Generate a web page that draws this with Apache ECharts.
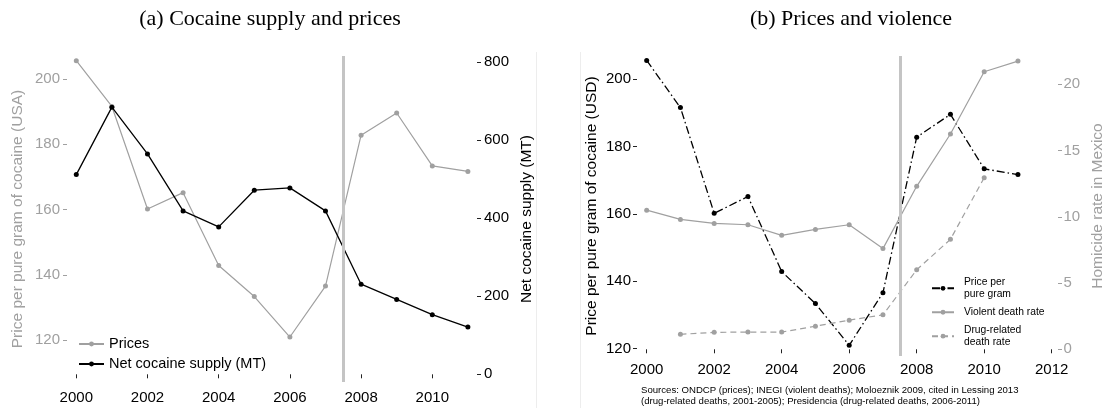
<!DOCTYPE html>
<html>
<head>
<meta charset="utf-8">
<script src="https://cdn.jsdelivr.net/npm/echarts@6/dist/echarts.min.js"></script>
<style>
  html, body { margin: 0; padding: 0; background: #fff; }
  #chart { width: 1109px; height: 408px; }
</style>
</head>
<body>
<div id="chart"></div>
<script>
// ---- data ----
const years = [2000, 2001, 2002, 2003, 2004, 2005, 2006, 2007, 2008, 2009, 2010, 2011];
// price per pure gram of cocaine (USD)
const prices = [205.6, 191.6, 160.2, 165.2, 142.9, 133.4, 121.0, 136.6, 182.8, 189.6, 173.4, 171.7];
// net cocaine supply (metric tons)
const supply = [512, 685, 565, 419, 378, 472, 478, 419, 231, 192, 153, 121];
// homicide rates in Mexico (per 100k)
const violentRate = [10.5, 9.8, 9.5, 9.4, 8.6, 9.05, 9.4, 7.6, 12.3, 16.25, 20.95, 21.75];
const drugRate = [null, 1.13, 1.28, 1.3, 1.3, 1.74, 2.2, 2.6, 6.0, 8.3, 12.95, null];

const yearTicksA = [2000, 2002, 2004, 2006, 2008, 2010];
const yearTicksB = [2000, 2002, 2004, 2006, 2008, 2010, 2012];
const priceTicks = [120, 140, 160, 180, 200];
const supplyTicks = [0, 200, 400, 600, 800];
const rateTicks = [0, 5, 10, 15, 20];

const policyYear = 2007.5;   // start of the crackdown, drawn as a vertical rule

const titleA = '(a) Cocaine supply and prices';
const titleB = '(b) Prices and violence';
const sourcesNote = 'Sources: ONDCP (prices); INEGI (violent deaths); Moloeznik 2009, cited in Lessing 2013\n' +
  '(drug-related deaths, 2001-2005); Presidencia (drug-related deaths, 2006-2011)';

// ---- styling ----
const SANS = "'Liberation Sans', Arial, Helvetica, sans-serif";
const SERIF = "'Liberation Serif', 'Times New Roman', serif";
const GREY = '#a0a0a0';
const BLACK = '#000000';

const pairs = (vals) => years.map((y, i) => [y, vals[i]]).filter(p => p[1] != null);

function xAxisDef(grid, min, max, ticks, margin) {
  return {
    type: 'value', gridIndex: grid, min: min, max: max,
    axisLine: { show: false }, splitLine: { show: false },
    axisTick: { show: true, length: 4, customValues: ticks, lineStyle: { color: '#222', width: 1 } },
    axisLabel: { customValues: ticks, margin: margin, fontSize: 15, fontFamily: SANS, color: BLACK,
                 formatter: v => String(v) }
  };
}

function yAxisDef(grid, pos, min, max, ticks, color, name, nameGap, margin) {
  return {
    type: 'value', gridIndex: grid, position: pos, min: min, max: max,
    axisLine: { show: false }, splitLine: { show: false },
    axisTick: { show: true, length: 4, customValues: ticks, lineStyle: { color: color === BLACK ? '#222' : color, width: 1 } },
    axisLabel: { customValues: ticks, margin: margin, fontSize: 15, fontFamily: SANS, color: color,
                 formatter: v => String(v) },
    name: name, nameLocation: 'middle', nameGap: nameGap,
    nameTextStyle: { fontSize: 15.5, fontFamily: SANS, color: color }
  };
}

function lineSeries(name, xi, yi, vals, color, dash, width) {
  return {
    name: name, type: 'line', xAxisIndex: xi, yAxisIndex: yi, data: pairs(vals),
    symbol: 'circle', symbolSize: 5, showSymbol: true, connectNulls: false,
    itemStyle: { color: color },
    lineStyle: { color: color, width: width, type: dash },
    emphasis: { disabled: true }, animation: false, z: 3
  };
}

function ruleSeries(xi, yi) {
  return {
    type: 'line', xAxisIndex: xi, yAxisIndex: yi, data: [], z: 1, silent: true, animation: false,
    markLine: {
      silent: true, symbol: 'none', animation: false,
      label: { show: false },
      lineStyle: { color: '#c4c4c4', width: 3, type: 'solid' },
      data: [{ xAxis: policyYear }]
    }
  };
}

const chart = echarts.init(document.getElementById('chart'), null, { renderer: 'canvas' });

chart.setOption({
  backgroundColor: '#ffffff',
  animation: false,
  grid: [
    { left: 67, top: 56, width: 410, height: 326 },
    { left: 637, top: 56, width: 421, height: 300 }
  ],
  xAxis: [
    xAxisDef(0, 1999.739, 2011.256, yearTicksA, 8),
    xAxisDef(1, 1999.713, 2012.187, yearTicksB, 6)
  ],
  yAxis: [
    yAxisDef(0, 'left', 107.23, 207.04, priceTicks, GREY, 'Price per pure gram of cocaine (USA)', 41, 7),
    yAxisDef(0, 'right', -19.74, 816.15, supplyTicks, BLACK, 'Net cocaine supply (MT)', 42, 7),
    yAxisDef(1, 'left', 117.83, 206.92, priceTicks, BLACK, 'Price per pure gram of cocaine (USD)', 37, 6),
    yAxisDef(1, 'right', -0.506, 22.136, rateTicks, GREY, 'Homicide rate in Mexico', 32, 5.5)
  ],
  legend: [
    {
      data: ['Prices', 'Net cocaine supply (MT)'],
      orient: 'vertical', left: 78, top: 336, padding: 0, itemGap: 4,
      itemWidth: 25, itemHeight: 6, selectedMode: false,
      textStyle: { fontSize: 14.5, fontFamily: SANS, color: BLACK, lineHeight: 16 }
    },
    {
      data: ['Price per\npure gram', 'Violent death rate', 'Drug-related\ndeath rate'],
      orient: 'vertical', left: 931, top: 277, padding: 0, itemGap: 7,
      itemWidth: 22, itemHeight: 6, selectedMode: false,
      textStyle: { fontSize: 10.3, fontFamily: SANS, color: BLACK, lineHeight: 11.3, padding: [0, 0, 0, 5] }
    }
  ],
  graphic: [
    { type: 'line', silent: true, shape: { x1: 536.5, y1: 52, x2: 536.5, y2: 408 }, style: { stroke: '#ededed', lineWidth: 1 } },
    { type: 'line', silent: true, shape: { x1: 580.5, y1: 52, x2: 580.5, y2: 408 }, style: { stroke: '#ededed', lineWidth: 1 } },
    { type: 'text', silent: true, x: 270, y: 19,
      style: { text: titleA, align: 'center', verticalAlign: 'middle', font: '22px ' + SERIF, fill: '#000' } },
    { type: 'text', silent: true, x: 851, y: 19,
      style: { text: titleB, align: 'center', verticalAlign: 'middle', font: '22px ' + SERIF, fill: '#000' } },
    { type: 'text', silent: true, x: 641, y: 385,
      style: { text: sourcesNote, align: 'left', verticalAlign: 'top', font: '9.6px ' + SANS, lineHeight: 11, fill: '#000' } }
  ],
  series: [
    ruleSeries(0, 0),
    lineSeries('Prices', 0, 0, prices, GREY, 'solid', 1.2),
    lineSeries('Net cocaine supply (MT)', 0, 1, supply, BLACK, 'solid', 1.3),
    ruleSeries(1, 2),
    lineSeries('Price per\npure gram', 1, 2, prices, BLACK, [8, 3, 1.5, 3], 1.3),
    lineSeries('Violent death rate', 1, 3, violentRate, GREY, 'solid', 1.2),
    lineSeries('Drug-related\ndeath rate', 1, 3, drugRate, GREY, [6, 4], 1.2)
  ]
});
</script>
</body>
</html>
